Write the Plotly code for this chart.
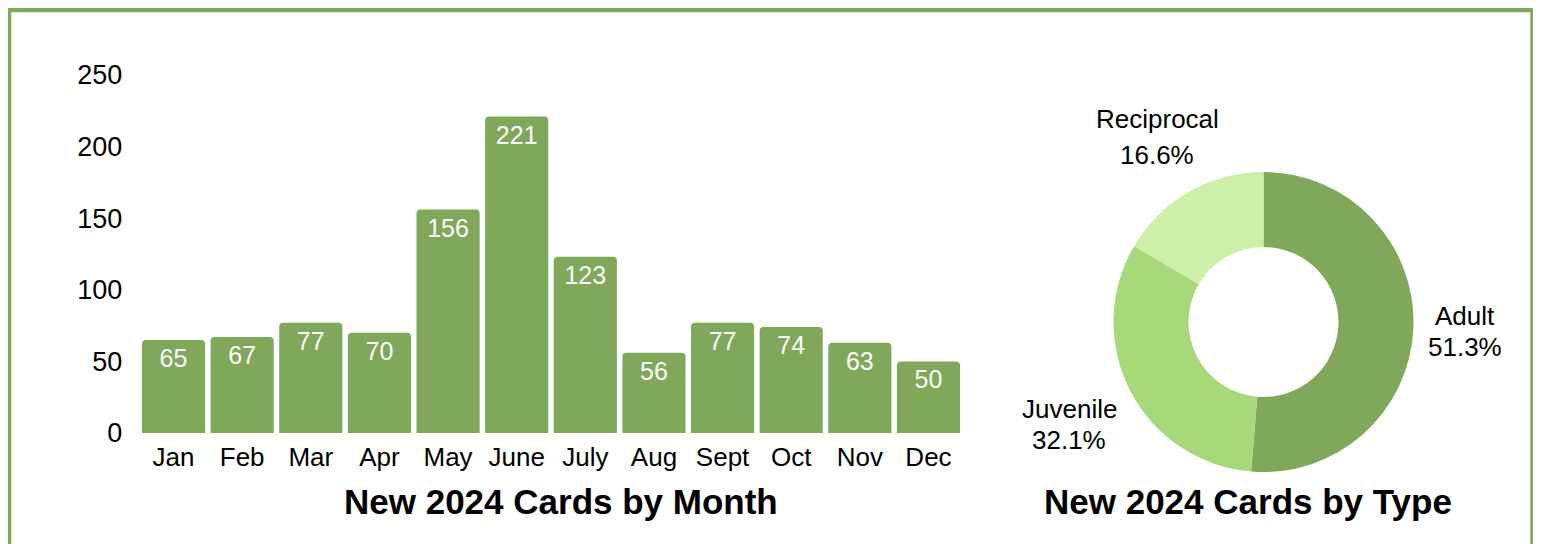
import plotly.graph_objects as go

months = ["Jan", "Feb", "Mar", "Apr", "May", "June", "July", "Aug", "Sept", "Oct", "Nov", "Dec"]
cards_by_month = [65, 67, 77, 70, 156, 221, 123, 56, 77, 74, 63, 50]
y_ticks = [0, 50, 100, 150, 200, 250]

card_types = ["Adult", "Juvenile", "Reciprocal"]
cards_by_type = [564, 353, 182]

W, H = 1541, 544
OFF = 8  # page body margin
GREEN = "#80a85a"
FONT = "Liberation Sans, Arial, sans-serif"

def px(x):
    return (x - OFF) / W

def py(y):
    return 1 - (y - OFF) / H

fig = go.Figure()

fig.add_trace(go.Bar(
    x=months, y=cards_by_month,
    marker=dict(color=GREEN, line=dict(width=0)),
    text=[str(v) for v in cards_by_month],
    textposition="inside", insidetextanchor="end",
    textfont=dict(color="white", size=25, family=FONT),
    textangle=0,
    xaxis="x", yaxis="y",
    hoverinfo="skip",
    showlegend=False,
))

fig.add_trace(go.Pie(
    labels=card_types, values=cards_by_type,
    hole=0.5, sort=False, direction="clockwise", rotation=0,
    marker=dict(colors=[GREEN, "#a7d879", "#ccf0a8"], line=dict(width=0)),
    textinfo="none", showlegend=False,
    domain=dict(x=[px(1263.5 - 150), px(1263.5 + 150)], y=[py(322 + 150), py(322 - 150)]),
))

fig.update_layout(
    width=W, height=H,
    margin=dict(l=0, r=0, t=0, b=0, pad=0),
    paper_bgcolor="white", plot_bgcolor="white",
    font=dict(family=FONT, size=26, color="black"),
    bargap=0.08,
    barcornerradius=4,
    xaxis=dict(domain=[px(139.2), px(962.8)], showgrid=False, showline=False, zeroline=False,
               ticks="", tickfont=dict(size=26), ticklabelstandoff=6, fixedrange=True,
               automargin=False),
    yaxis=dict(domain=[py(433), py(75)], range=[0, 250], tickvals=y_ticks, showgrid=False,
               showline=False, zeroline=False, ticks="", tickfont=dict(size=27),
               ticklabelstandoff=16, fixedrange=True, automargin=False),
)

total = sum(cards_by_type)
pcts = [f"{v / total * 100:.1f}%" for v in cards_by_type]
label_pos = {
    "Adult": [(1465, 316), (1465, 347)],
    "Juvenile": [(1069, 409), (1069, 440)],
    "Reciprocal": [(1157, 119), (1157, 155)],
}
annotations = []
for name, pct in zip(card_types, pcts):
    (x1, y1), (x2, y2) = label_pos[name]
    annotations.append(dict(x=px(x1), y=py(y1), xref="paper", yref="paper", text=name,
                            showarrow=False, xanchor="center", yanchor="middle",
                            font=dict(size=26, family=FONT)))
    annotations.append(dict(x=px(x2), y=py(y2), xref="paper", yref="paper", text=pct,
                            showarrow=False, xanchor="center", yanchor="middle",
                            font=dict(size=26, family=FONT)))

annotations.append(dict(x=px(561), y=py(501), xref="paper", yref="paper",
                        text="<b>New 2024 Cards by Month</b>", showarrow=False,
                        xanchor="center", yanchor="middle", font=dict(size=35, family=FONT)))
annotations.append(dict(x=px(1247.5), y=py(501), xref="paper", yref="paper",
                        text="<b>New 2024 Cards by Type</b>", showarrow=False,
                        xanchor="center", yanchor="middle", font=dict(size=35, family=FONT)))
fig.update_layout(annotations=annotations)

fig.add_shape(type="rect", xref="paper", yref="paper",
              x0=px(9), x1=px(1532.5), y0=-0.2, y1=py(10),
              line=dict(color=GREEN, width=4.5), fillcolor="rgba(0,0,0,0)", layer="above")

fig.write_html("out.html", config={"displayModeBar": False})
